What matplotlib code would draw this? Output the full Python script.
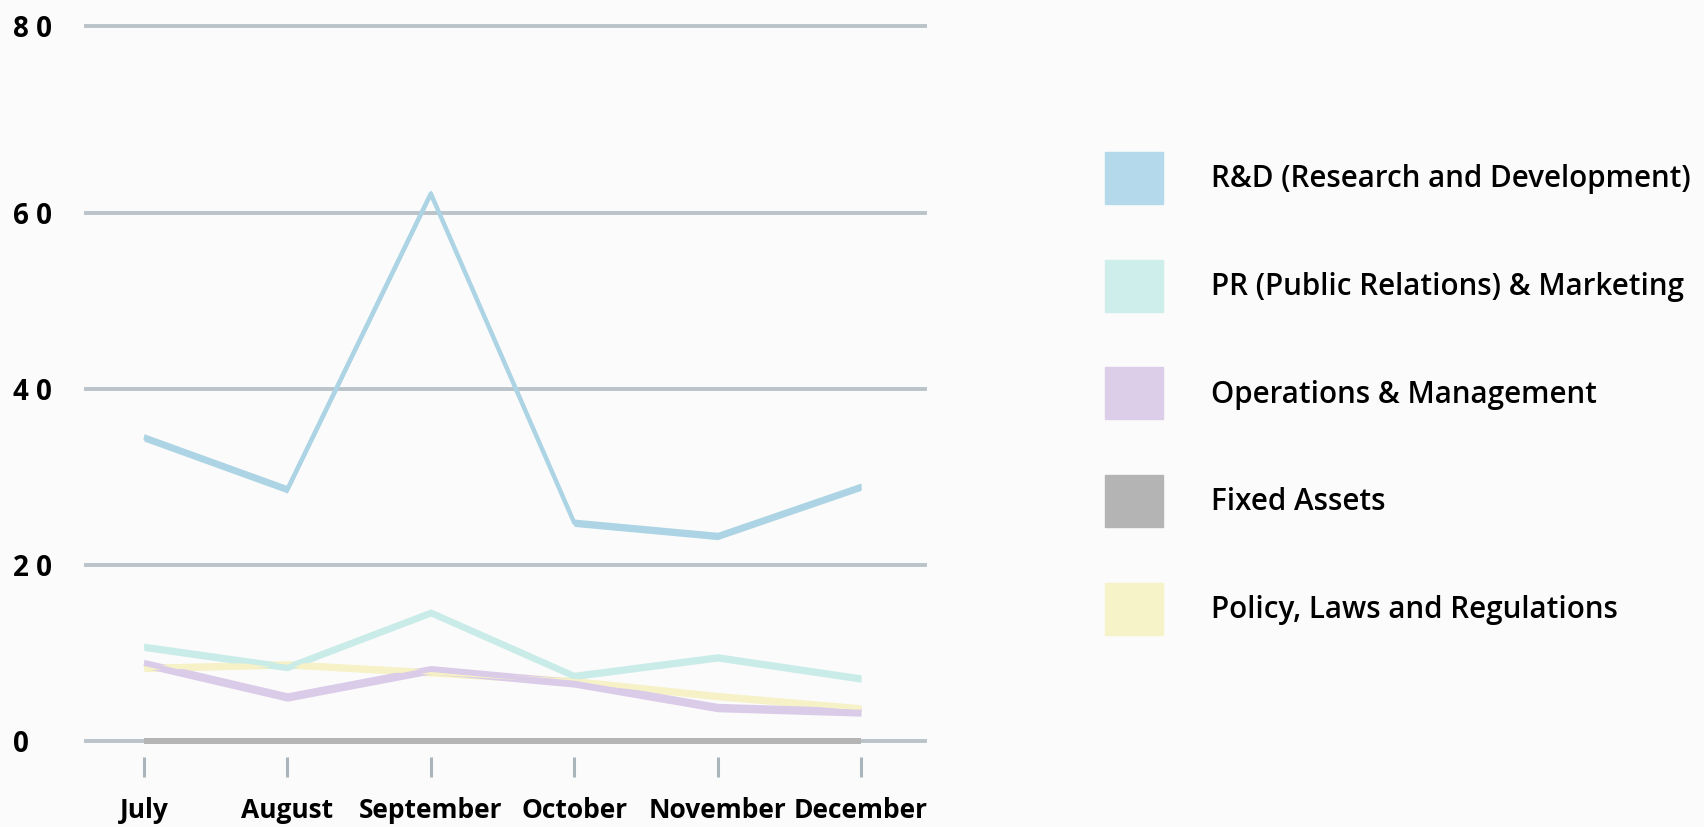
import numpy as np
import matplotlib.pyplot as plt
from matplotlib.patches import Patch

plt.rcParams['font.family'] = ['Open Sans', 'Noto Sans', 'DejaVu Sans']

months = ["July", "August", "September", "October", "November", "December"]
series = [
    "R&D (Research and Development)",
    "PR (Public Relations) & Marketing",
    "Operations & Management",
    "Fixed Assets",
    "Policy, Laws and Regulations",
]
rnd = [34.5, 28.6, 62.2, 24.8, 23.3, 28.9]
pr = [10.7, 8.4, 14.6, 7.4, 9.5, 7.1]
ops = [8.8, 5.0, 8.1, 6.6, 3.8, 3.3]
fixed = [0, 0, 0, 0, 0, 0]
policy = [8.3, 8.7, 7.8, 6.8, 5.1, 3.7]
yticks = [0, 20, 40, 60, 80]

colors = ["#acd4e4", "#c9ece8", "#dacbe8", "#b5b5b5", "#f6f1c6"]
legend_colors = ["#b3d9ea", "#cdeeea", "#dccde9", "#b4b4b4", "#f7f3c8"]


def band(ax, xs, ys, half, color):
    """Line drawn as a band of mostly vertical thickness."""
    ys = np.array(ys, dtype=float)
    ax.fill_between(xs, ys - half, ys + half, color=color, lw=0, clip_on=False)
    ax.plot(xs, ys, color=color, lw=3.2, solid_capstyle="butt", clip_on=False)


def main():
    fig = plt.figure(figsize=(17.04, 8.27), dpi=100)
    fig.patch.set_facecolor("#fbfbfb")
    ax = fig.add_axes([86 / 1704, 86 / 827, 839 / 1704, 714.6 / 827])
    ax.set_facecolor("#fbfbfb")

    xs = np.arange(len(months))
    top = 81.2
    ax.set_xlim(-0.404, 5.446)
    ax.set_ylim(0, top)

    grid_pos = yticks[:-1] + [top]
    for g in grid_pos:
        ax.axhline(g, color="#b9c3c9", lw=2.8, zorder=1, clip_on=False)

    data = [rnd, pr, ops, fixed, policy]
    halves = [0.42, 0.42, 0.48, 0.3, 0.42]
    for i in [4, 3, 2, 1, 0]:
        band(ax, xs, data[i], halves[i], colors[i])

    ax.vlines(xs, -1.8, -4.1, color="#a9b4bb", lw=2.2, clip_on=False)

    for s in ax.spines.values():
        s.set_visible(False)
    ax.set_yticks(grid_pos)
    ax.set_yticklabels([" ".join(str(t)) for t in yticks], fontsize=20,
                       fontweight="bold", ha="left")
    ax.tick_params(axis="y", length=0, pad=52.5)
    ax.set_xticks(xs)
    ax.set_xticklabels(months, fontsize=19, fontweight="bold")
    ax.tick_params(axis="x", length=0, pad=40)

    handles = [Patch(color=c) for c in legend_colors]
    fig.legend(handles, series, loc="upper left",
               bbox_to_anchor=(1105 / 1704, 1 - 152 / 827),
               frameon=False, borderpad=0, borderaxespad=0,
               handlelength=1.97, handleheight=2.33, handletextpad=1.62,
               labelspacing=1.88, prop={"weight": "semibold", "size": 21.3})

    fig.savefig("out.png", dpi=100, facecolor=fig.get_facecolor())
    plt.close(fig)


if __name__ == "__main__":
    main()
